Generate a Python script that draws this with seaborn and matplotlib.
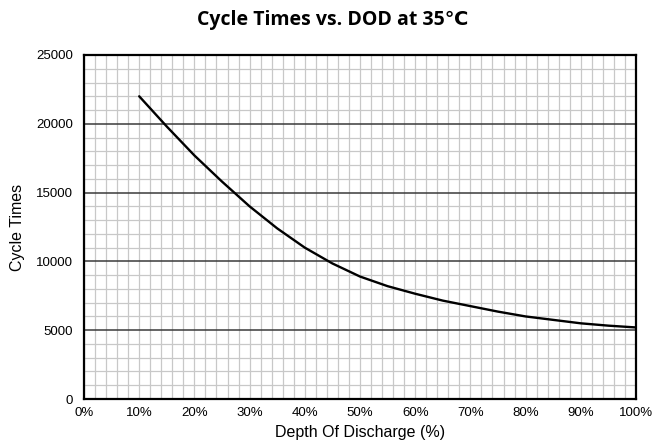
import matplotlib
matplotlib.use("Agg")
import matplotlib.pyplot as plt
import seaborn as sns
import pandas as pd
from matplotlib.ticker import MultipleLocator, PercentFormatter

dod = [10, 15, 20, 25, 30, 35, 40, 45, 50, 55, 60, 65, 70, 75, 80, 85, 90, 95, 100]
cycles = [22000, 19800, 17700, 15800, 14000, 12400, 11000, 9850, 8900, 8200, 7650, 7150, 6750, 6350, 6000, 5750, 5500, 5330, 5200]

x_ticks = [0, 10, 20, 30, 40, 50, 60, 70, 80, 90, 100]
y_ticks = [0, 5000, 10000, 15000, 20000, 25000]

sns.set_theme(style="white")
plt.rcParams['font.family'] = ['Liberation Sans', 'DejaVu Sans']

df = pd.DataFrame({"DOD": dod, "Cycles": cycles})

fig = plt.figure(figsize=(6.66, 4.46), dpi=100)
ax = fig.add_axes([84/666, 1 - 399/446, (636-84)/666, (399-55)/446])

ax.set_xlim(0, 100)
ax.set_ylim(0, 25000)
ax.xaxis.set_minor_locator(MultipleLocator(2))
ax.yaxis.set_minor_locator(MultipleLocator(1000))
ax.set_xticks(x_ticks)
ax.set_yticks(y_ticks)
ax.xaxis.set_major_formatter(PercentFormatter(decimals=0))

ax.grid(which="minor", axis="both", color="#c8c8c8", linewidth=0.9)
ax.grid(which="major", axis="x", color="#c8c8c8", linewidth=0.9)
ax.grid(which="major", axis="y", color="#3a3a3a", linewidth=1.1)
ax.set_axisbelow(True)

sns.lineplot(data=df, x="DOD", y="Cycles", ax=ax, color="black", linewidth=1.7)

for s in ax.spines.values():
    s.set_color("black")
    s.set_linewidth(1.6)

ax.tick_params(axis="both", which="major", direction="in", length=4, width=1, colors="black",
               labelsize=9.5, pad=6, labelcolor="black")
ax.tick_params(which="minor", length=0)
ax.tick_params(axis="y", pad=8)

ax.set_xlabel("Depth Of Discharge (%)", fontsize=11.5, color="black", labelpad=4)
ax.set_ylabel("Cycle Times", fontsize=11.5, color="black", labelpad=8)

fig.text(0.5, 1 - 20/446, "Cycle Times vs. DOD at 35\u2103", ha="center", va="center",
         fontsize=14, fontweight="bold", family=["Open Sans", "DejaVu Sans"], color="black")

fig.savefig("out.png", dpi=100)
